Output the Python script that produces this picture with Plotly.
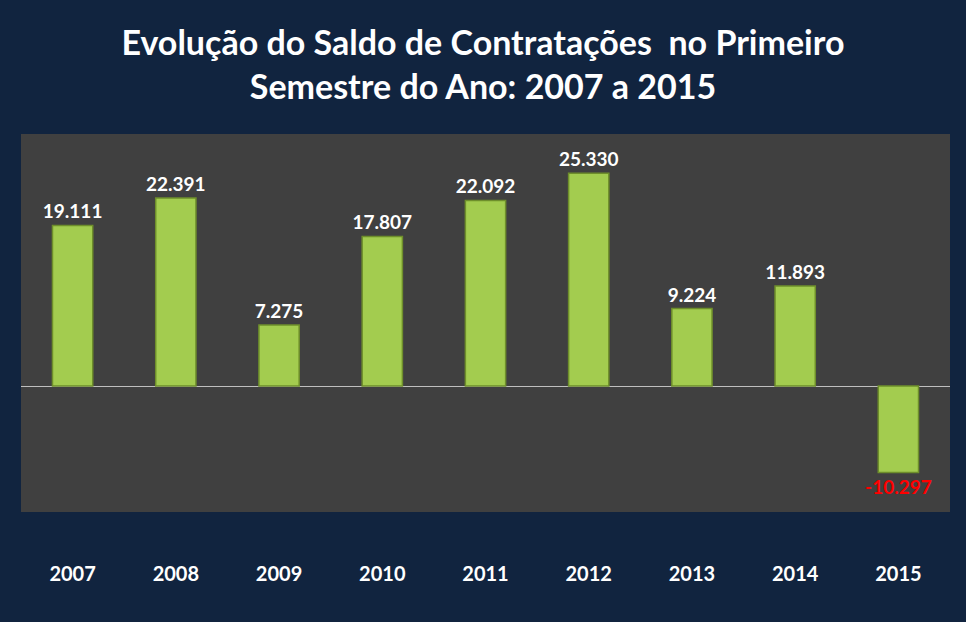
import plotly.graph_objects as go

years = ["2007", "2008", "2009", "2010", "2011", "2012", "2013", "2014", "2015"]
saldo = [19111, 22391, 7275, 17807, 22092, 25330, 9224, 11893, -10297]
labels = ["19.111", "22.391", "7.275", "17.807", "22.092", "25.330", "9.224", "11.893", "-10.297"]

label_colors = ["#FFFFFF" if v >= 0 else "#FF0000" for v in saldo]
FONT = "Lato, 'Open Sans', sans-serif"

fig = go.Figure(go.Bar(
    x=years, y=saldo,
    text=labels, textposition="outside", constraintext="none",
    texttemplate="<b>%{text}</b>",
    textfont=dict(family=FONT, size=19, color=label_colors),
    marker=dict(color="#A3CC4F", line=dict(color="#6E8E2B", width=1.5)),
    cliponaxis=False,
))

fig.update_layout(
    width=966, height=622,
    paper_bgcolor="#11243F", plot_bgcolor="#404040",
    margin=dict(l=21, r=16, t=134, b=110),
    bargap=0.61,
    showlegend=False,
    title=dict(
        text="<b>Evolução do Saldo de Contratações  no Primeiro<br>Semestre do Ano: 2007 a 2015</b>",
        x=0.5, xanchor="center", y=0.912, yanchor="middle",
        font=dict(family=FONT, size=34, color="#FFFFFF"),
    ),
    xaxis=dict(
        showgrid=False, showline=False, zeroline=False, ticks="",
        tickfont=dict(family=FONT, size=20, color="#FFFFFF"),
        ticklabelstandoff=48,
        tickprefix="<b>", ticksuffix="</b>",
    ),
    yaxis=dict(
        range=[-15000, 30000], showgrid=False, showticklabels=False,
        zeroline=True, zerolinecolor="#BFBFBF", zerolinewidth=1,
    ),
)

fig.write_html("out.html", config={"displayModeBar": False},
               post_script="document.body.style.margin='0';")
